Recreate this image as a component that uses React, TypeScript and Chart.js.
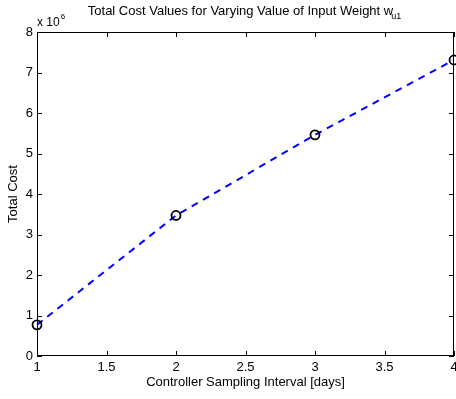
import React, { useEffect, useRef } from "react";
import { Chart, registerables } from "chart.js";

Chart.register(...registerables);

const intervals = [1, 2, 3, 4];
const totalCost = [0.77, 3.47, 5.46, 7.31];
const xTicks = [1, 1.5, 2, 2.5, 3, 3.5, 4];
const yTicks = [0, 1, 2, 3, 4, 5, 6, 7, 8];
const titleMain = "Total Cost Values for Varying Value of Input Weight w";
const titleSub = "u1";
const xLabel = "Controller Sampling Interval [days]";
const yLabel = "Total Cost";

const FONT = "Liberation Sans, Arial, Helvetica, sans-serif";

const framePlugin = {
  id: "matlabFrame",
  afterDatasetsDraw(chart: any) {
    const { ctx, chartArea, scales } = chart;
    const { left, right, top, bottom } = chartArea;
    ctx.save();
    ctx.strokeStyle = "#000";
    ctx.lineWidth = 1;
    ctx.strokeRect(left + 0.5, top + 0.5, right - left - 1, bottom - top - 1);
    const tl = 5;
    ctx.beginPath();
    xTicks.forEach((v) => {
      const px = Math.round(scales.x.getPixelForValue(v)) + 0.5;
      ctx.moveTo(px, bottom);
      ctx.lineTo(px, bottom - tl);
      ctx.moveTo(px, top);
      ctx.lineTo(px, top + tl);
    });
    yTicks.forEach((v) => {
      const py = Math.round(scales.y.getPixelForValue(v)) + 0.5;
      ctx.moveTo(left, py);
      ctx.lineTo(left + tl, py);
      ctx.moveTo(right, py);
      ctx.lineTo(right - tl, py);
    });
    ctx.stroke();

    // title
    ctx.fillStyle = "#000";
    ctx.font = `13px ${FONT}`;
    ctx.textBaseline = "alphabetic";
    const mainW = ctx.measureText(titleMain).width;
    ctx.font = `9px ${FONT}`;
    const subW = ctx.measureText(titleSub).width;
    const total = mainW + subW;
    const cx = (left + right) / 2;
    const startX = cx - total / 2;
    ctx.font = `13px ${FONT}`;
    ctx.textAlign = "left";
    ctx.fillText(titleMain, startX, 15);
    ctx.font = `9px ${FONT}`;
    ctx.fillText(titleSub, startX + mainW - 2, 19);

    // exponent
    ctx.font = `12px ${FONT}`;
    ctx.fillText("x 10", left, 26);
    const w10 = ctx.measureText("x 10").width;
    ctx.font = `8px ${FONT}`;
    ctx.fillText("6", left + w10 + 1, 19);
    ctx.restore();
  },
};

export default function App() {
  const ref = useRef<HTMLCanvasElement | null>(null);
  useEffect(() => {
    document.body.style.margin = "0";
    if (!ref.current) return;
    const chart = new Chart(ref.current, {
      type: "line",
      data: {
        datasets: [
          {
            data: intervals.map((x, i) => ({ x, y: totalCost[i] })),
            borderColor: "#0000ff",
            borderWidth: 2,
            borderDash: [7, 6],
            pointRadius: 4.5,
            pointBorderColor: "#000",
            pointBackgroundColor: "rgba(0,0,0,0)",
            pointBorderWidth: 1.8,
            fill: false,
            tension: 0,
            clip: false,
          } as any,
        ],
      },
      options: {
        animation: false,
        responsive: false,
        devicePixelRatio: 1,
        layout: { autoPadding: false, padding: { top: 32, right: 2, left: 0, bottom: 0 } },
        plugins: { legend: { display: false }, tooltip: { enabled: false } },
        scales: {
          x: {
            type: "linear",
            min: 1,
            max: 4,
            afterBuildTicks: (s: any) => {
              s.ticks = xTicks.map((v) => ({ value: v }));
            },
            grid: { display: false, drawTicks: false },
            border: { display: false },
            ticks: {
              color: "#000",
              font: { family: FONT, size: 13 },
              padding: 4,
              maxRotation: 0,
              autoSkip: false,
              callback: (v: any) => String(v),
            },
            title: {
              display: true,
              text: xLabel,
              color: "#000",
              font: { family: FONT, size: 13 },
              padding: { top: 0, bottom: 9 },
            },
            afterFit: (s: any) => {
              s.height = 399 - 356;
              s.paddingLeft = 0;
              s.paddingRight = 0;
            },
          },
          y: {
            type: "linear",
            min: 0,
            max: 8,
            afterBuildTicks: (s: any) => {
              s.ticks = yTicks.map((v) => ({ value: v }));
            },
            grid: { display: false, drawTicks: false },
            border: { display: false },
            ticks: {
              color: "#000",
              font: { family: FONT, size: 13 },
              padding: 4,
              autoSkip: false,
              callback: (v: any) => String(v),
            },
            title: {
              display: true,
              text: yLabel,
              color: "#000",
              font: { family: FONT, size: 13 },
              padding: { top: 6, bottom: 0 },
            },
            afterFit: (s: any) => {
              s.width = 37;
              s.paddingTop = 0;
              s.paddingBottom = 0;
            },
          },
        },
      },
      plugins: [framePlugin],
    });
    return () => chart.destroy();
  }, []);
  return (
    <div style={{ width: 456, height: 399, background: "#fff" }}>
      <canvas ref={ref} width={456} height={399} style={{ display: "block" }} />
    </div>
  );
}
